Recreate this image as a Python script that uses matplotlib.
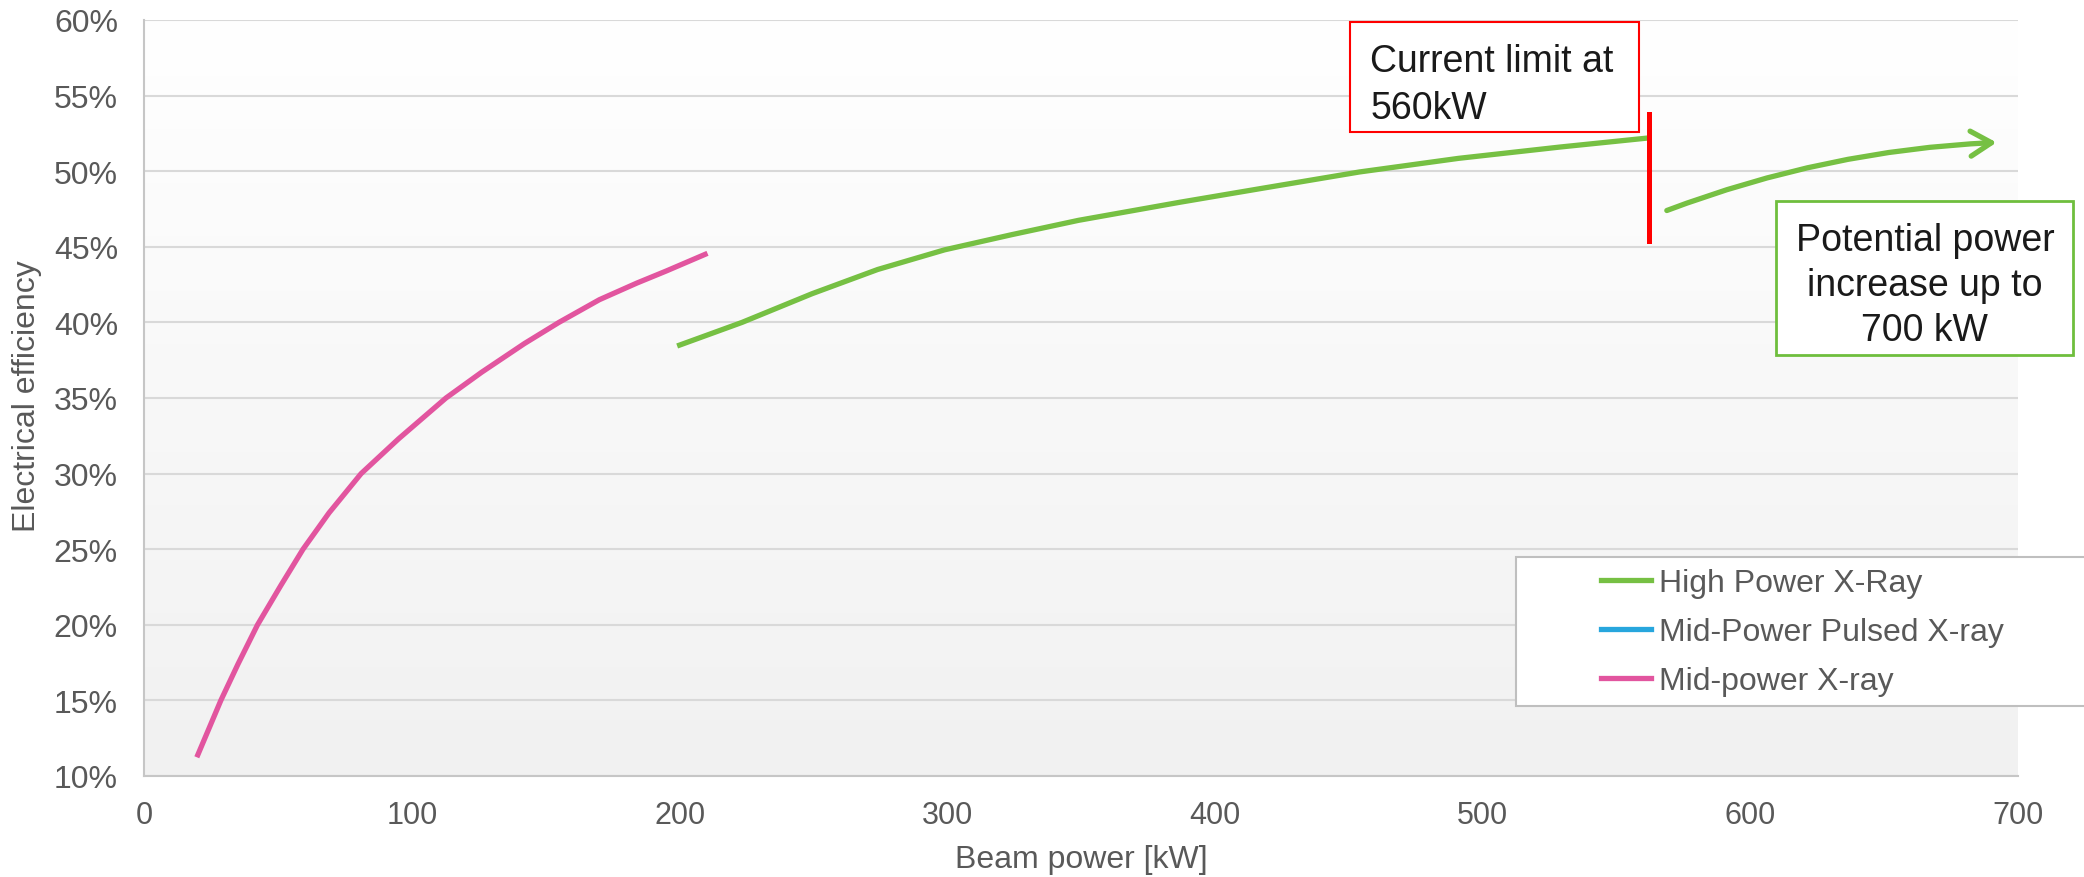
import numpy as np
import matplotlib
matplotlib.use('Agg')
import matplotlib.pyplot as plt
from matplotlib.patches import FancyArrowPatch, Rectangle

plt.rcParams['font.family'] = ['Liberation Sans', 'DejaVu Sans']

# Mid-power X-ray curve (kW, %)
mp_kw = [20, 28.6, 35, 42.3, 51, 59.3, 69, 81, 95, 112.7, 126, 142, 154.9, 170, 184, 195, 209.5]
mp_eff = [11.4, 15.0, 17.4, 20.0, 22.6, 25.0, 27.4, 30.0, 32.3, 35.0, 36.7, 38.6, 40.0,
          41.5, 42.6, 43.4, 44.5]

# High power X-ray curve
hp_kw = [200, 223.3, 249.5, 274, 299, 324, 349, 387, 417, 454, 491, 529, 562]
hp_eff = [38.5, 40.0, 41.9, 43.5, 44.8, 45.8, 46.75, 47.95, 48.85, 49.95, 50.85, 51.6, 52.2]

# Mid-power pulsed X-ray: legend entry only
mpp_kw = []
mpp_eff = []

# current limit marker and extension arrow
limit_kw = [562.3, 562.3]
limit_eff = [45.4, 53.8]
ext_start = (568.8, 47.4)
ext_end = (692, 51.9)

yticks = [10, 15, 20, 25, 30, 35, 40, 45, 50, 55, 60]
ytick_labels = ['10%', '15%', '20%', '25%', '30%', '35%', '40%', '45%', '50%', '55%', '60%']
xticks = [0, 100, 200, 300, 400, 500, 600, 700]

green = '#76c043'
pink = '#e2559f'
blue = '#27a6dd'
grey_txt = '#595959'

W, H = 2084, 878
fig = plt.figure(figsize=(W / 100, H / 100), dpi=100)
ax = fig.add_axes([144.3 / W, 1 - 777 / H, (2018 - 144.3) / W, (777 - 21) / H])

# background gradient white -> light grey
grad = np.linspace(0, 1, 256).reshape(-1, 1)
ax.imshow(grad, extent=[0, 700, 10, 60], aspect='auto', origin='upper',
          cmap=matplotlib.colors.LinearSegmentedColormap.from_list('g', ['#ffffff', '#f1f1f1']),
          zorder=0)

ax.set_xlim(0, 700)
ax.set_ylim(10, 60)
ax.set_yticks(yticks)
ax.set_yticklabels(ytick_labels)
ax.set_xticks(xticks)
ax.tick_params(length=0, colors=grey_txt)
ax.tick_params(axis='x', pad=17, labelsize=22)
ax.tick_params(axis='y', pad=19, labelsize=23)
ax.grid(axis='y', color='#d9d9d9', linewidth=1.5, zorder=1)
for s in ['top', 'right']:
    ax.spines[s].set_visible(False)
for s in ['left', 'bottom']:
    ax.spines[s].set_color('#c6c6c6')
    ax.spines[s].set_linewidth(1.5)

l1, = ax.plot(hp_kw, hp_eff, color=green, lw=3.8, label='High Power X-Ray', zorder=3,
              solid_joinstyle='round')
l2, = ax.plot(mpp_kw, mpp_eff, color=blue, lw=3.8, label='Mid-Power Pulsed X-ray', zorder=3)
l3, = ax.plot(mp_kw, mp_eff, color=pink, lw=3.8, label='Mid-power X-ray', zorder=3,
              solid_joinstyle='round')

ax.plot(limit_kw, limit_eff, color='#ff0000', lw=3.6, zorder=4)

arr = FancyArrowPatch(ext_start, ext_end, connectionstyle='arc3,rad=-0.08',
                      arrowstyle='->,head_length=0.75,head_width=0.45',
                      mutation_scale=20, color=green, lw=3.8, shrinkA=0, shrinkB=0,
                      zorder=4)
ax.add_patch(arr)

# annotation boxes
ax.add_patch(Rectangle((450.4, 52.59), 108.0, 7.28, fc='white', ec='#ff0000', lw=1.5,
                       zorder=5, clip_on=False))
ax.text(458.0, 55.72, 'Current limit at\n560kW', fontsize=27, color='#1a1a1a',
        ha='left', va='center', linespacing=1.38, zorder=6)

ax.add_patch(Rectangle((609.5, 37.84), 111.0, 10.19, fc='white', ec='#6fbe3d', lw=2,
                       zorder=5, clip_on=False))
ax.text(665.2, 42.45, 'Potential power\nincrease up to\n700 kW', fontsize=27,
        color='#1a1a1a', ha='center', va='center', multialignment='center',
        linespacing=1.32, zorder=6, clip_on=False)

# legend box runs off the right edge of the figure
fig.patches.append(Rectangle((1516 / W, 1 - 707 / H), (2100 - 1516) / W, (707 - 558) / H,
                             transform=fig.transFigure, fc='white', ec='#bfbfbf', lw=1.5,
                             zorder=5))
leg = fig.legend(handles=[l1, l2, l3], loc='upper left',
                 bbox_to_anchor=(1601 / W, 1 - 569 / H), frameon=False, fontsize=23,
                 handlelength=1.58, handletextpad=0.24, labelspacing=0.6, borderpad=0,
                 borderaxespad=0)
for t in leg.get_texts():
    t.set_color(grey_txt)
leg.set_zorder(6)

fig.text(1081 / W, 1 - 860 / H, 'Beam power [kW]', fontsize=23, color=grey_txt,
         ha='center', va='center')
fig.text(27 / W, 1 - 396 / H, 'Electrical efficiency', fontsize=23, color=grey_txt,
         ha='center', va='center', rotation=90)

fig.savefig('out.png', dpi=100)
